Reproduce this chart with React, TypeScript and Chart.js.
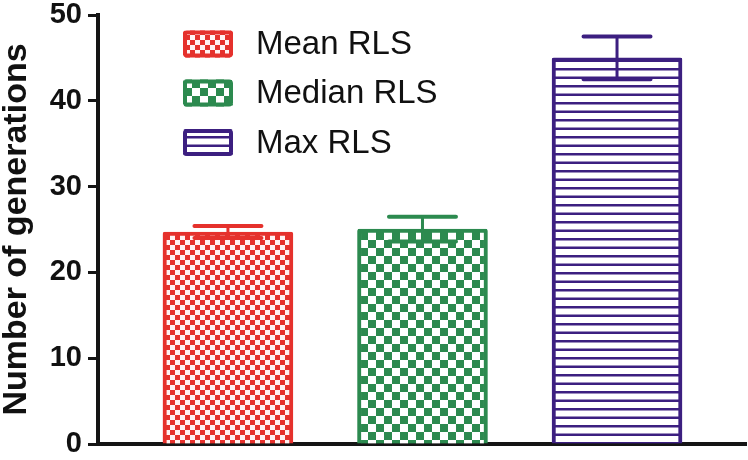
import React, { useEffect, useRef } from 'react';
import { Chart, registerables } from 'chart.js';

Chart.register(...registerables);

const categories = ['Mean RLS', 'Median RLS', 'Max RLS'];
const positions = [1, 2, 3];
const values = [24.7, 25.05, 45.0];
const errors = [0.7, 1.45, 2.5];
const yTicks = [0, 10, 20, 30, 40, 50];
const colors = ['#e5312c', '#2c8a4f', '#3c1f80'];

const FONT = "'Liberation Sans', Arial, Helvetica, sans-serif";

function makePattern(kind: number, color: string): CanvasPattern | string {
  const c = document.createElement('canvas');
  const g = c.getContext('2d');
  if (!g) return color;
  if (kind === 0) {
    c.width = 10; c.height = 10;
    g.fillStyle = '#fff3f3';
    g.fillRect(0, 0, 10, 10);
    g.fillStyle = color;
    g.fillRect(0, 0, 5, 5);
    g.fillRect(5, 5, 5, 5);
  } else if (kind === 1) {
    c.width = 16; c.height = 16;
    g.fillStyle = '#ffffff';
    g.fillRect(0, 0, 16, 16);
    g.fillStyle = color;
    g.fillRect(0, 0, 8, 8);
    g.fillRect(8, 8, 8, 8);
  } else {
    c.width = 8; c.height = 17;
    g.fillStyle = '#ffffff';
    g.fillRect(0, 0, 8, 17);
    g.fillStyle = color;
    g.fillRect(0, 0, 8, 2.5);
    g.fillRect(0, 8.5, 8, 2.5);
  }
  return g.createPattern(c, 'repeat') || color;
}

const errorBarsPlugin = {
  id: 'errorBars',
  afterDatasetsDraw(chart: any) {
    const { ctx } = chart;
    const y = chart.scales.y;
    chart.data.datasets.forEach((_ds: any, i: number) => {
      const meta = chart.getDatasetMeta(i);
      const bar = meta.data[0];
      if (!bar) return;
      const yt = y.getPixelForValue(values[i] + errors[i]);
      const yb = y.getPixelForValue(values[i] - errors[i]);
      const x = bar.x;
      const half = 33.5;
      ctx.save();
      ctx.strokeStyle = colors[i];
      ctx.lineCap = 'round';
      ctx.lineWidth = 3;
      ctx.beginPath();
      ctx.moveTo(x, yt);
      ctx.lineTo(x, yb);
      ctx.stroke();
      ctx.lineWidth = 4;
      ctx.beginPath();
      ctx.moveTo(x - half, yt);
      ctx.lineTo(x + half, yt);
      ctx.moveTo(x - half, yb);
      ctx.lineTo(x + half, yb);
      ctx.stroke();
      ctx.restore();
    });
  },
};

const legendPlugin = {
  id: 'customLegend',
  afterDraw(chart: any) {
    const { ctx } = chart;
    const centers = [44, 93, 142.5];
    const bx = 183, bw = 50, bh = 27;
    chart.data.datasets.forEach((ds: any, i: number) => {
      const cy = centers[i];
      const by = cy - bh / 2;
      ctx.save();
      ctx.fillStyle = ds.backgroundColor;
      ctx.beginPath();
      ctx.roundRect(bx, by, bw, bh, 3);
      ctx.fill();
      ctx.strokeStyle = ds.borderColor;
      ctx.lineWidth = 4;
      ctx.beginPath();
      ctx.roundRect(bx + 2, by + 2, bw - 4, bh - 4, 2);
      ctx.stroke();
      ctx.fillStyle = '#111111';
      ctx.font = `33px ${FONT}`;
      ctx.textBaseline = 'middle';
      ctx.textAlign = 'left';
      ctx.fillText(ds.label, 256, cy + 1);
      ctx.restore();
    });
  },
};

export default function App() {
  const ref = useRef<HTMLCanvasElement | null>(null);

  useEffect(() => {
    if (!ref.current) return;
    const datasets = categories.map((label, i) => ({
      label,
      data: [{ x: positions[i], y: values[i] }],
      backgroundColor: makePattern(i, colors[i]),
      borderColor: colors[i],
      borderWidth: 4,
      borderRadius: 2,
      barThickness: 130,
      grouped: false,
    }));

    const chart = new Chart(ref.current, {
      type: 'bar',
      data: { datasets } as any,
      options: {
        animation: false,
        responsive: false,
        layout: { padding: { top: 15, right: 2, left: 0, bottom: 0 } },
        plugins: {
          legend: { display: false },
          tooltip: { enabled: false },
        },
        scales: {
          x: {
            type: 'linear',
            min: 0.332,
            max: 3.663,
            offset: false,
            grid: { display: false, offset: false },
            ticks: { display: false },
            border: { display: true, width: 4, color: '#151515' },
            afterFit: (s: any) => {
              s.height = 16;
              s.paddingLeft = 0;
              s.paddingRight = 0;
            },
          },
          y: {
            min: 0,
            max: 50,
            afterBuildTicks: (s: any) => {
              s.ticks = yTicks.map((v) => ({ value: v }));
            },
            ticks: {
              color: '#111111',
              padding: 6,
              font: { family: FONT, size: 29, weight: 'bold' },
            },
            grid: {
              drawOnChartArea: false,
              drawTicks: true,
              tickLength: 10,
              tickWidth: 3,
              tickColor: '#151515',
            },
            border: { display: true, width: 4, color: '#151515' },
            title: {
              display: true,
              text: 'Number of generations',
              color: '#111111',
              padding: 0,
              font: { family: FONT, size: 34, weight: 'bold', lineHeight: 1 },
            },
            afterFit: (s: any) => {
              s.width = 98;
              s.paddingTop = 0;
              s.paddingBottom = 0;
            },
          },
        },
      } as any,
      plugins: [errorBarsPlugin, legendPlugin],
    });
    return () => chart.destroy();
  }, []);

  return (
    <div style={{ position: 'fixed', left: 0, top: 0, width: 748, height: 460, background: '#fff' }}>
      <canvas ref={ref} width={748} height={460} style={{ display: 'block' }} />
    </div>
  );
}
